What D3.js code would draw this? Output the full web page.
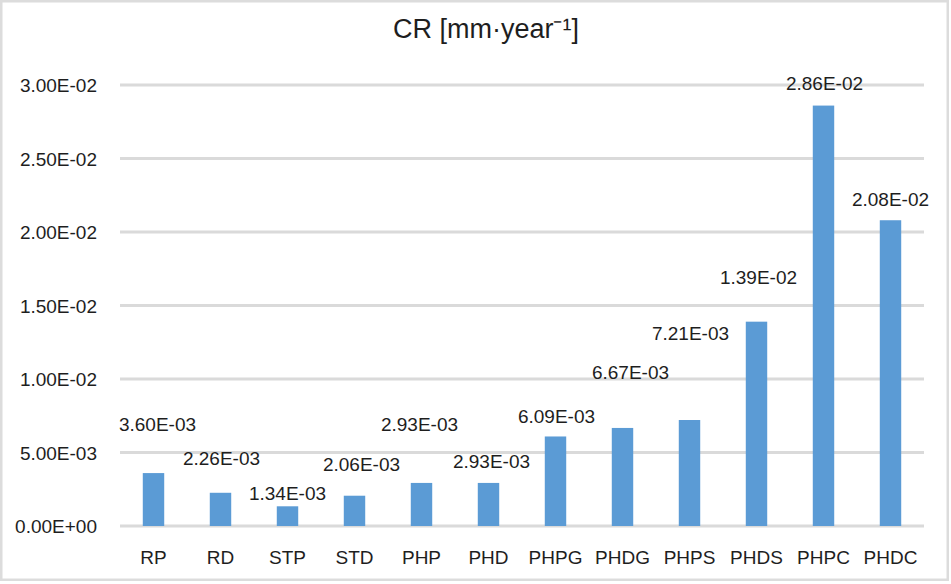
<!DOCTYPE html>
<html>
<head>
<meta charset="utf-8">
<script src="https://cdn.jsdelivr.net/npm/d3@7"></script>
<style>
  html, body { margin: 0; padding: 0; background: #fff; }
  text { font-family: "Liberation Sans", Arial, sans-serif; fill: #1e1e1e; }
</style>
</head>
<body>
<svg id="chart" width="951" height="584"></svg>
<script>
// values
var categories = ["RP", "RD", "STP", "STD", "PHP", "PHD", "PHPG", "PHDG", "PHPS", "PHDS", "PHPC", "PHDC"];
var rates = [3.60e-3, 2.26e-3, 1.34e-3, 2.06e-3, 2.93e-3, 2.93e-3, 6.09e-3, 6.67e-3, 7.21e-3, 1.39e-2, 2.86e-2, 2.08e-2];
var rateLabels = ["3.60E-03", "2.26E-03", "1.34E-03", "2.06E-03", "2.93E-03", "2.93E-03", "6.09E-03", "6.67E-03", "7.21E-03", "1.39E-02", "2.86E-02", "2.08E-02"];
var yTicks = [0, 0.005, 0.01, 0.015, 0.02, 0.025, 0.03];
var yTickLabels = ["0.00E+00", "5.00E-03", "1.00E-02", "1.50E-02", "2.00E-02", "2.50E-02", "3.00E-02"];

// the data labels were dragged around by hand in the original, so nudge them (px)
var labelLift = [49, 34, 13, 31, 59, 22, 20, 56, 87, 44, 22, 21];
var labelShift = [4, 1, 0, 7, -2, 3, 1, 8, 1, 2, 1, 0];

var W = 951, H = 584;
var margin = {top: 85, right: 27, bottom: 58, left: 120};
var svg = d3.select("#chart");

svg.append("rect")
  .attr("x", 1.25).attr("y", 1.25)
  .attr("width", W - 4.5).attr("height", H - 5.5)
  .attr("fill", "#fff")
  .attr("stroke", "#dcdcdc")
  .attr("stroke-width", 2.5);

var x = d3.scaleBand().domain(categories)
  .range([margin.left, W - margin.right])
  .paddingInner(0.68).paddingOuter(0.34);
var y = d3.scaleLinear().domain([0, 0.03]).range([H - margin.bottom, margin.top]);

// gridlines
svg.append("g").selectAll("line").data(yTicks).enter()
  .append("line")
  .attr("x1", margin.left).attr("x2", W - margin.right)
  .attr("y1", function(d){return y(d);}).attr("y2", function(d){return y(d);})
  .attr("stroke", "#dadada")
  .attr("stroke-width", 3);

// y axis labels
var yAxis = d3.axisLeft(y).tickValues(yTicks)
  .tickFormat(function(d, i){return yTickLabels[i];})
  .tickSize(0).tickPadding(0);
var ya = svg.append("g").attr("transform", "translate(97,0)").call(yAxis);
ya.select(".domain").remove();
ya.selectAll("text").style("font-size", "19px").attr("fill", "#1e1e1e").attr("dy", "0.35em");

// x axis labels
var xAxis = d3.axisBottom(x).tickSize(0).tickPadding(0);
var xa = svg.append("g").attr("transform", "translate(0," + (H - margin.bottom + 31) + ")").call(xAxis);
xa.select(".domain").remove();
xa.selectAll("text").style("font-size", "19px").attr("fill", "#1e1e1e").attr("dy", "0.35em");

// bars
svg.append("g").selectAll("rect").data(rates).enter()
  .append("rect")
  .attr("x", function(d, i){return x(categories[i]);})
  .attr("width", x.bandwidth())
  .attr("y", function(d){return y(d);})
  .attr("height", function(d){return y(0) - y(d);})
  .attr("fill", "#5b9bd5");

// data labels
svg.append("g").selectAll("text").data(rates).enter()
  .append("text")
  .attr("x", function(d, i){return x(categories[i]) + x.bandwidth() / 2 + labelShift[i];})
  .attr("y", function(d, i){return y(d) - labelLift[i];})
  .attr("dy", "0.35em")
  .attr("text-anchor", "middle")
  .style("font-size", "19px")
  .text(function(d, i){return rateLabels[i];});

// title
svg.append("text")
  .attr("x", 486).attr("y", 38)
  .attr("text-anchor", "middle")
  .style("font-size", "27px")
  .text("CR [mm·year⁻¹]");
</script>
</body>
</html>
